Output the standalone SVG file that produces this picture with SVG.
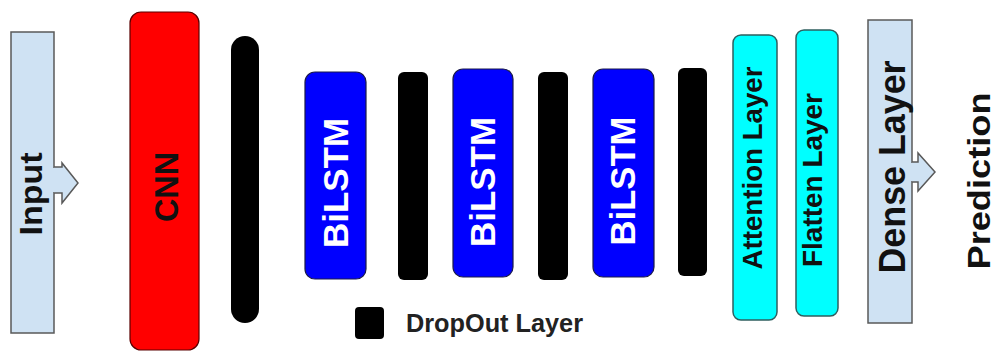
<svg xmlns="http://www.w3.org/2000/svg" width="998" height="352" viewBox="0 0 998 352">
<style>
text{font-family:"Liberation Sans",Arial,sans-serif;font-weight:bold;text-anchor:middle}
.io{fill:#cfe2f3;stroke:#595959;stroke-width:1.5}
.cnn{fill:#ff0000;stroke:#5a0000;stroke-width:1.2}
.lstm{fill:#0000ff;stroke:#1a1a4a;stroke-width:1.2}
.cyan{fill:#00ffff;stroke:#2f5f5f;stroke-width:1.5}
.drop{fill:#000}
.dark{fill:#111}
.white{fill:#fff}
</style>
<rect width="998" height="352" fill="#fff"/>
<g id="input">
<rect class="io" x="11" y="32" width="43" height="301"/>
<text class="dark" font-size="31" transform="translate(42,194) rotate(-90)" textLength="83" lengthAdjust="spacingAndGlyphs">Input</text>
</g>
<g id="cnn">
<rect class="cnn" x="130" y="12" width="69" height="338" rx="11"/>
<text class="dark" font-size="33" transform="translate(178,187) rotate(-90)" textLength="70" lengthAdjust="spacingAndGlyphs">CNN</text>
</g>
<g id="dropout1"><rect class="drop" x="231" y="36" width="28" height="287" rx="14"/></g>
<g id="bilstm1">
<rect class="lstm" x="305" y="72" width="61" height="207" rx="10"/>
<text class="white" font-size="35" transform="translate(348,183) rotate(-90)" textLength="130" lengthAdjust="spacingAndGlyphs">BiLSTM</text>
</g>
<g id="dropout2"><rect class="drop" x="398" y="72" width="30" height="208" rx="6"/></g>
<g id="bilstm2">
<rect class="lstm" x="453" y="69" width="60" height="208" rx="10"/>
<text class="white" font-size="35" transform="translate(495,182) rotate(-90)" textLength="130" lengthAdjust="spacingAndGlyphs">BiLSTM</text>
</g>
<g id="dropout3"><rect class="drop" x="538" y="72" width="30" height="208" rx="6"/></g>
<g id="bilstm3">
<rect class="lstm" x="593" y="69" width="61" height="208" rx="10"/>
<text class="white" font-size="35" transform="translate(635,181) rotate(-90)" textLength="129" lengthAdjust="spacingAndGlyphs">BiLSTM</text>
</g>
<g id="dropout4"><rect class="drop" x="678" y="68" width="29" height="208" rx="6"/></g>
<g id="attention">
<rect class="cyan" x="733" y="35" width="44" height="285" rx="8"/>
<text class="dark" font-size="28" transform="translate(762,168) rotate(-90)" textLength="203" lengthAdjust="spacingAndGlyphs">Attention Layer</text>
</g>
<g id="flatten">
<rect class="cyan" x="796" y="30" width="42" height="286" rx="8"/>
<text class="dark" font-size="28" transform="translate(822,180) rotate(-90)" textLength="174" lengthAdjust="spacingAndGlyphs">Flatten Layer</text>
</g>
<g id="dense">
<rect class="io" x="868" y="20" width="44" height="303"/>
<text class="dark" font-size="36" transform="translate(905,167) rotate(-90)" textLength="213" lengthAdjust="spacingAndGlyphs">Dense Layer</text>
</g>
<g id="prediction">
<text class="dark" font-size="32" transform="translate(990,181) rotate(-90)" textLength="177" lengthAdjust="spacingAndGlyphs">Prediction</text>
</g>
<g id="connectors">
<rect x="52" y="168" width="4" height="24" fill="#cfe2f3"/>
<path class="io" d="M54,167 H62 V163 L78,183 L62,203 V193 H54"/>
<rect x="910" y="163" width="4" height="18" fill="#cfe2f3"/>
<path class="io" d="M912,162 H918 V153 L935,172 L918,191 V182 H912"/>
</g>
<g id="legend">
<rect class="drop" x="355" y="307" width="29" height="32" rx="4"/>
<text fill="#222" font-size="25" x="406" y="332" style="text-anchor:start" textLength="177" lengthAdjust="spacingAndGlyphs">DropOut Layer</text>
</g>
</svg>
